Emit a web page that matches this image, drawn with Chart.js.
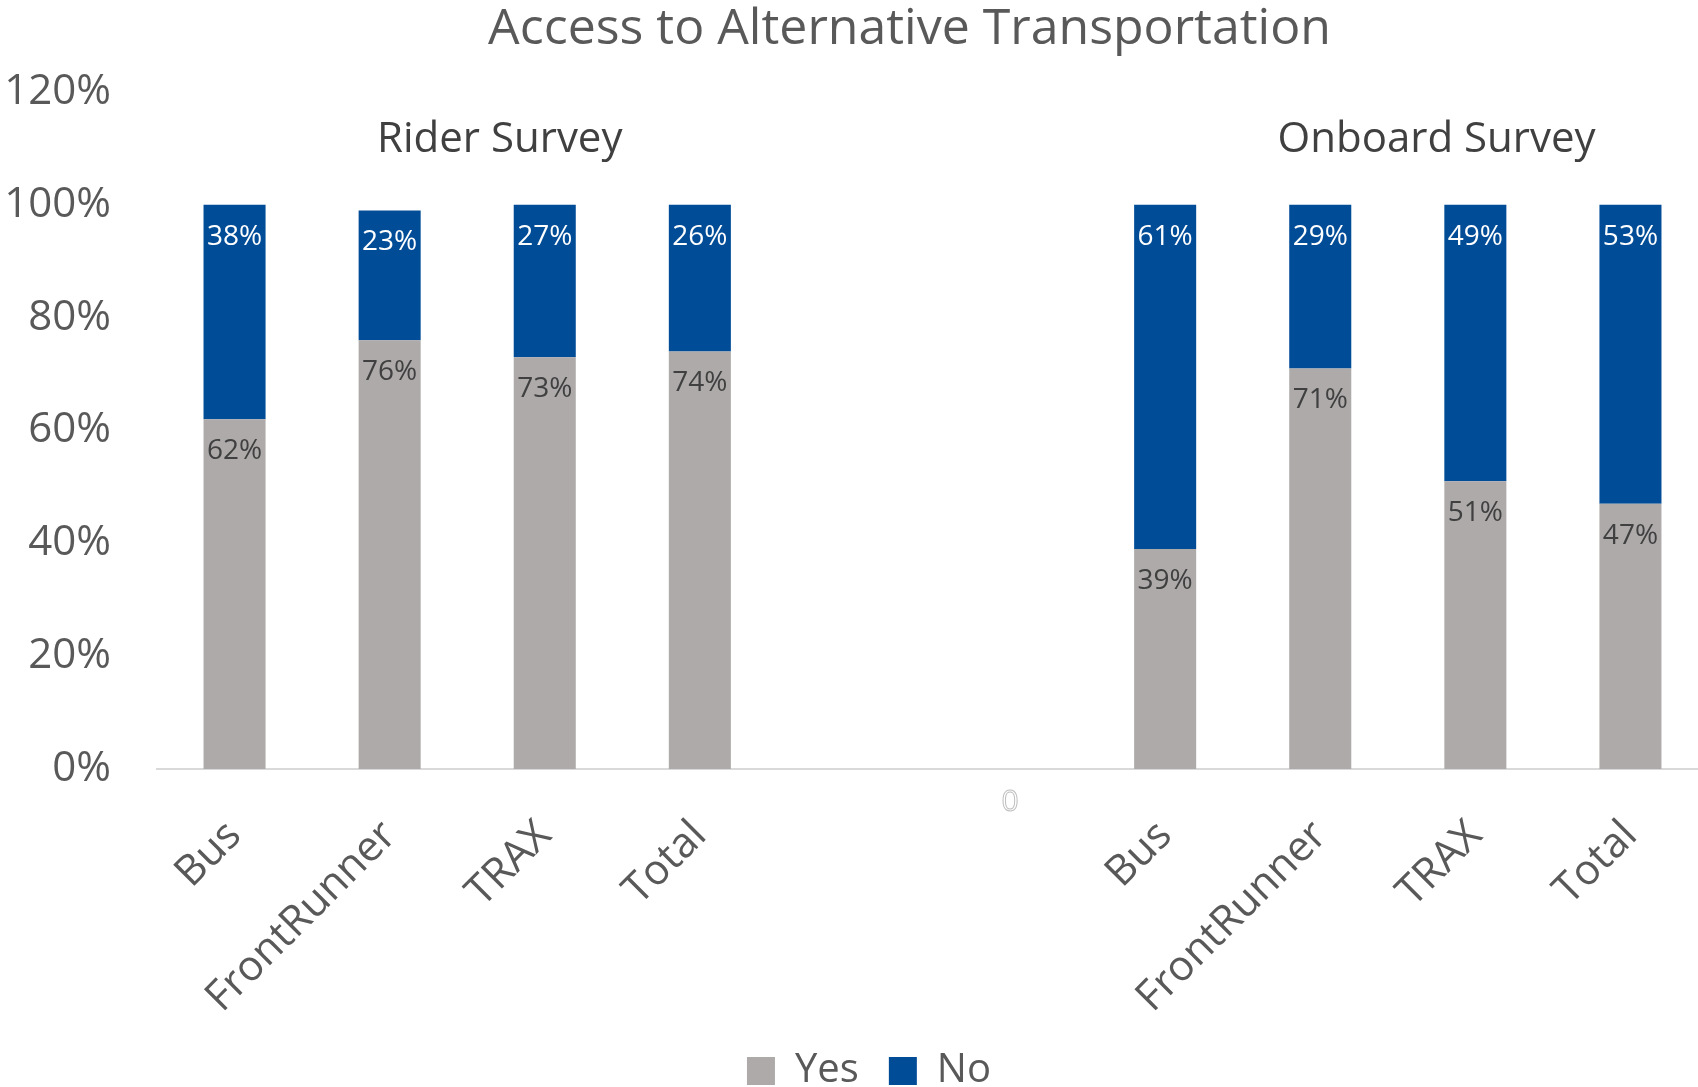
<!DOCTYPE html>
<html>
<head>
<meta charset="utf-8">
<script src="https://cdn.jsdelivr.net/npm/chart.js@4.4.1/dist/chart.umd.min.js"></script>
<style>
  html, body { margin: 0; padding: 0; background: #fff; }
  #wrap { width: 1698px; height: 1087px; position: relative; }
</style>
</head>
<body>
<div id="wrap"><canvas id="chart"></canvas></div>
<script>
// --- DANE ---
const categories = ['Bus', 'FrontRunner', 'TRAX', 'Total', '', '0', 'Bus', 'FrontRunner', 'TRAX', 'Total'];
const yesValues = [62, 76, 73, 74, null, null, 39, 71, 51, 47];
const noValues  = [38, 23, 27, 26, null, null, 61, 29, 49, 53];
const yTicks = [0, 20, 40, 60, 80, 100, 120];
const groupLabels = ['Rider Survey', 'Onboard Survey'];
const groupLabelPos = [1.71, 7.75];   // pozycja na osi kategorii
const groupLabelValue = 111.5;        // pozycja na osi Y
const plainIndex = 5;                 // etykieta "0" rysowana poziomo

const FONT = '"Open Sans", "Noto Sans", sans-serif';
const GRAY_TEXT = '#595959';

// Oś X w oryginale wychodzi lekko poza prawą krawędź;
// tytuł i legenda lekko przesunięte jak w Excelu
const adjustLayout = {
    id: 'adjustLayout',
    afterLayout(chart) {
        const x = chart.scales.x;
        x.right += 10;
        x.width += 10;
        x.configure();
        if (chart.titleBlock) {
            chart.titleBlock.left -= 18;
            chart.titleBlock.right -= 18;
        }
        if (chart.legend) {
            chart.legend.left += 20;
            chart.legend.right += 20;
        }
    }
};

// Etykiety danych (wewnątrz, przy końcu słupka)
const barLabels = {
    id: 'barLabels',
    afterDatasetsDraw(chart) {
        const ctx = chart.ctx;
        ctx.save();
        ctx.font = '28px ' + FONT;
        ctx.textAlign = 'center';
        ctx.textBaseline = 'middle';
        chart.data.datasets.forEach((ds, di) => {
            const meta = chart.getDatasetMeta(di);
            meta.data.forEach((bar, i) => {
                const v = ds.data[i];
                if (v == null) return;
                ctx.fillStyle = di === 0 ? '#404040' : '#ffffff';
                ctx.fillText(v + '%', bar.x, bar.y + 32);
            });
        });
        ctx.restore();
    }
};

// Podpisy grup + pozioma etykieta "0"
const extraText = {
    id: 'extraText',
    afterDraw(chart) {
        const ctx = chart.ctx;
        const x = chart.scales.x, y = chart.scales.y;
        ctx.save();
        ctx.font = '42px ' + FONT;
        ctx.fillStyle = '#404040';
        ctx.textAlign = 'center';
        ctx.textBaseline = 'middle';
        groupLabels.forEach((t, i) => {
            ctx.fillText(t, x.getPixelForValue(groupLabelPos[i]), y.getPixelForValue(groupLabelValue));
        });
        // kategoria "0" - jasna, konturowa, bez obrotu
        ctx.font = '30px ' + FONT;
        ctx.strokeStyle = '#BFBFBF';
        ctx.lineWidth = 1;
        ctx.strokeText(categories[plainIndex], x.getPixelForValue(plainIndex), y.bottom + 33);
        ctx.restore();
    }
};

new Chart(document.getElementById('chart'), {
    type: 'bar',
    data: {
        labels: categories,
        datasets: [
            { label: 'Yes', data: yesValues, backgroundColor: '#AEAAAA', categoryPercentage: 1, barPercentage: 0.4 },
            { label: 'No',  data: noValues,  backgroundColor: '#004C97', categoryPercentage: 1, barPercentage: 0.4 }
        ]
    },
    options: {
        responsive: true,
        maintainAspectRatio: false,
        animation: false,
        layout: { padding: { top: 0, right: 0, left: 0, bottom: -14 } },
        plugins: {
            title: {
                display: true,
                fullSize: false,
                text: 'Access to Alternative Transportation',
                color: GRAY_TEXT,
                font: { family: FONT, size: 50, weight: 'normal' },
                padding: { top: 0, bottom: 32 }
            },
            legend: {
                position: 'bottom',
                labels: {
                    color: GRAY_TEXT,
                    font: { family: FONT, size: 40 },
                    boxWidth: 28,
                    boxHeight: 28,
                    padding: 30
                }
            },
            tooltip: { enabled: false }
        },
        scales: {
            x: {
                stacked: true,
                grid: { display: false },
                border: { display: true, color: '#D9D9D9', width: 2 },
                ticks: {
                    autoSkip: false,
                    maxRotation: 45,
                    minRotation: 45,
                    padding: 34,
                    font: { family: FONT, size: 42 },
                    color: GRAY_TEXT,
                    callback: (v, i) => i === plainIndex ? '' : categories[i]
                },
                afterFit(scale) { scale.height = 252; }
            },
            y: {
                stacked: true,
                min: 0,
                max: 120,
                grid: { display: false },
                border: { display: false },
                ticks: {
                    stepSize: 20,
                    padding: 38,
                    font: { family: FONT, size: 42 },
                    color: GRAY_TEXT,
                    callback: (v) => yTicks.includes(v) ? v + '%' : ''
                },
                afterFit(scale) { scale.width = 157; }
            }
        }
    },
    plugins: [adjustLayout, barLabels, extraText]
});
</script>
</body>
</html>
